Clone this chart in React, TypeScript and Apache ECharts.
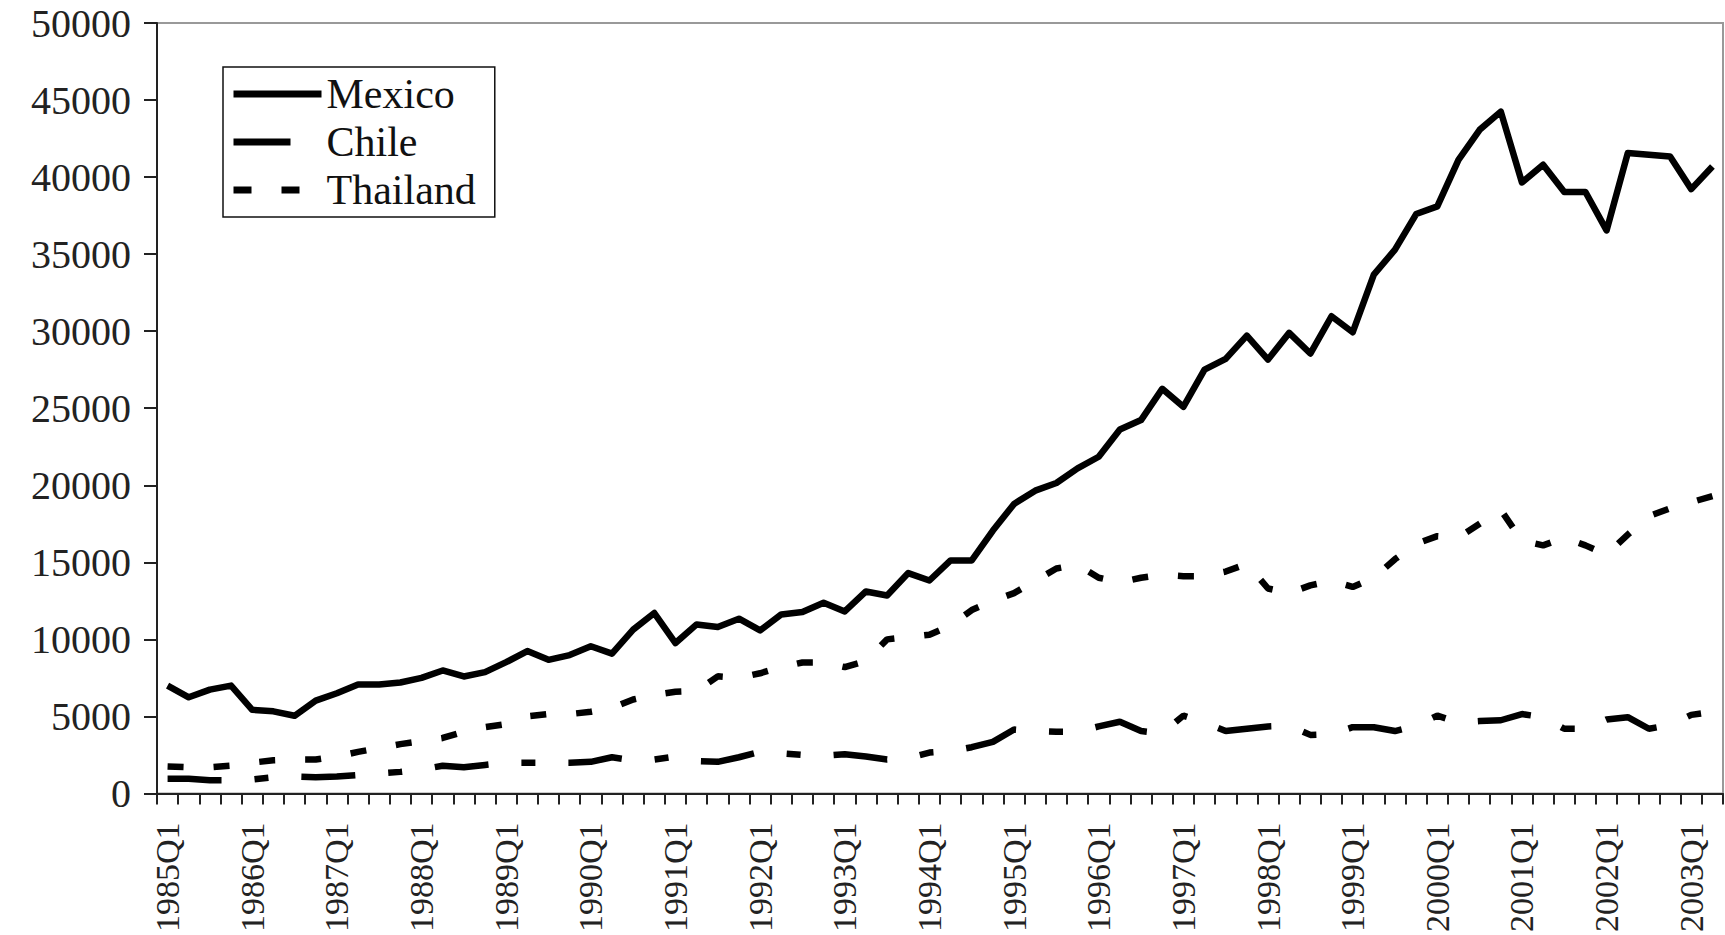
import React, { useEffect, useRef } from "react";
import * as echarts from "echarts";

const quarters = [
  "1985Q1","1985Q2","1985Q3","1985Q4","1986Q1","1986Q2","1986Q3","1986Q4",
  "1987Q1","1987Q2","1987Q3","1987Q4","1988Q1","1988Q2","1988Q3","1988Q4",
  "1989Q1","1989Q2","1989Q3","1989Q4","1990Q1","1990Q2","1990Q3","1990Q4",
  "1991Q1","1991Q2","1991Q3","1991Q4","1992Q1","1992Q2","1992Q3","1992Q4",
  "1993Q1","1993Q2","1993Q3","1993Q4","1994Q1","1994Q2","1994Q3","1994Q4",
  "1995Q1","1995Q2","1995Q3","1995Q4","1996Q1","1996Q2","1996Q3","1996Q4",
  "1997Q1","1997Q2","1997Q3","1997Q4","1998Q1","1998Q2","1998Q3","1998Q4",
  "1999Q1","1999Q2","1999Q3","1999Q4","2000Q1","2000Q2","2000Q3","2000Q4",
  "2001Q1","2001Q2","2001Q3","2001Q4","2002Q1","2002Q2","2002Q3","2002Q4",
  "2003Q1","2003Q2",
];

const mexico = [
  7000, 6240, 6740, 7000, 5430, 5330, 5040, 6020,
  6500, 7070, 7070, 7200, 7500, 7980, 7590, 7870,
  8520, 9240, 8670, 8980, 9550, 9070, 10630, 11710,
  9760, 10970, 10800, 11340, 10580, 11620, 11770, 12380,
  11810, 13110, 12850, 14300, 13820, 15120, 15120, 17060,
  18790, 19650, 20150, 21100, 21850, 23620, 24230, 26260,
  25090, 27510, 28200, 29710, 28160, 29890, 28550, 30970,
  29930, 33670, 35290, 37600, 38100, 41120, 43070, 44250,
  39650, 40800, 39030, 39030, 36540, 41560, 41450, 41340,
  39220, 40690,
];

const chile = [
  950, 950, 850, 850, 900, 1050, 1100, 1050,
  1100, 1200, 1300, 1400, 1550, 1800, 1700, 1850,
  2000, 2000, 2000, 2000, 2050, 2350, 2150, 2200,
  2400, 2100, 2050, 2350, 2700, 2600, 2500, 2450,
  2550, 2400, 2200, 2300, 2650, 2750, 3000, 3350,
  4150, 4050, 4000, 4000, 4350, 4650, 4050, 3900,
  5050, 4600, 4050, 4200, 4350, 4400, 3800, 3850,
  4300, 4300, 4050, 4400, 5050, 4600, 4700, 4750,
  5150, 4950, 4200, 4200, 4800, 4950, 4200, 4450,
  5100, 5300,
];

const thailand = [
  1750, 1700, 1700, 1800, 2000, 2150, 2200, 2200,
  2400, 2700, 2950, 3200, 3400, 3600, 4000, 4300,
  4500, 5000, 5150, 5150, 5300, 5550, 6100, 6400,
  6600, 6650, 7600, 7500, 7800, 8200, 8500, 8500,
  8200, 8600, 10000, 10150, 10300, 10900, 11900, 12500,
  13000, 13800, 14600, 14850, 14000, 13700, 14000, 14200,
  14100, 14100, 14400, 14900, 13300, 13000, 13500, 13800,
  13400, 14000, 15200, 16200, 16700, 16600, 17500, 18400,
  16400, 16100, 16600, 16100, 15500, 16800, 18000, 18500,
  18900, 19300,
];

const FONT = "'Liberation Serif', 'Times New Roman', serif";
const HIDDEN_SYMBOL = { color: "rgba(0,0,0,0)", borderWidth: 0, opacity: 0 };

export default function App() {
  const ref = useRef<HTMLDivElement>(null);

  useEffect(() => {
    if (!ref.current) return;
    const chart = echarts.init(ref.current, null, { renderer: "svg" });
    const option = {
      animation: false,
      backgroundColor: "#ffffff",
      grid: {
        left: 157,
        right: 2,
        top: 23,
        bottom: 141,
        show: true,
        borderColor: "#999999",
        borderWidth: 2,
        backgroundColor: "transparent",
      },
      legend: {
        orient: "vertical",
        left: 223,
        top: 67,
        padding: [4, 19, 4, 7],
        itemGap: 2,
        itemWidth: 88,
        itemHeight: 14,
        borderColor: "#111",
        borderWidth: 1.5,
        borderRadius: 0,
        lineStyle: { width: 7 },
        itemStyle: HIDDEN_SYMBOL,
        textStyle: {
          fontFamily: FONT,
          fontSize: 42,
          lineHeight: 46,
          color: "#111",
        },
        data: [
          { name: "Mexico", itemStyle: HIDDEN_SYMBOL, lineStyle: { type: "solid", width: 7 } },
          { name: "Chile", itemStyle: HIDDEN_SYMBOL, lineStyle: { type: [57, 40], width: 7 } },
          { name: "Thailand", itemStyle: HIDDEN_SYMBOL, lineStyle: { type: [18, 30], width: 7 } },
        ],
      },
      xAxis: {
        type: "category",
        data: quarters,
        boundaryGap: true,
        axisLine: { show: true, lineStyle: { color: "#222", width: 2 } },
        axisTick: {
          show: true,
          interval: 0,
          length: 11,
          lineStyle: { color: "#222", width: 2 },
        },
        axisLabel: {
          interval: 3,
          rotate: 90,
          margin: 29,
          fontFamily: FONT,
          fontSize: 34,
          color: "#222",
        },
        splitLine: { show: false },
      },
      yAxis: {
        type: "value",
        min: 0,
        max: 50000,
        interval: 5000,
        axisLine: { show: true, lineStyle: { color: "#222", width: 2 } },
        axisTick: { show: true, length: 13, lineStyle: { color: "#222", width: 2 } },
        axisLabel: {
          margin: 26,
          fontFamily: FONT,
          fontSize: 40,
          color: "#222",
          formatter: (v: number) => String(v),
        },
        splitLine: { show: false },
      },
      series: [
        {
          name: "Mexico",
          type: "line",
          data: mexico,
          symbol: "none",
          lineStyle: { color: "#000", width: 6.5, type: "solid", join: "round" },
          itemStyle: { color: "#000" },
        },
        {
          name: "Chile",
          type: "line",
          data: chile,
          symbol: "none",
          lineStyle: { color: "#000", width: 6.5, type: [54, 33, 14, 33] },
          itemStyle: { color: "#000" },
        },
        {
          name: "Thailand",
          type: "line",
          data: thailand,
          symbol: "none",
          lineStyle: { color: "#000", width: 6.5, type: [16, 30] },
          itemStyle: { color: "#000" },
        },
      ],
    };
    chart.setOption(option as any);
    return () => chart.dispose();
  }, []);

  return (
    <div
      ref={ref}
      style={{ position: "fixed", left: 0, top: 0, width: 1725, height: 935 }}
    />
  );
}
